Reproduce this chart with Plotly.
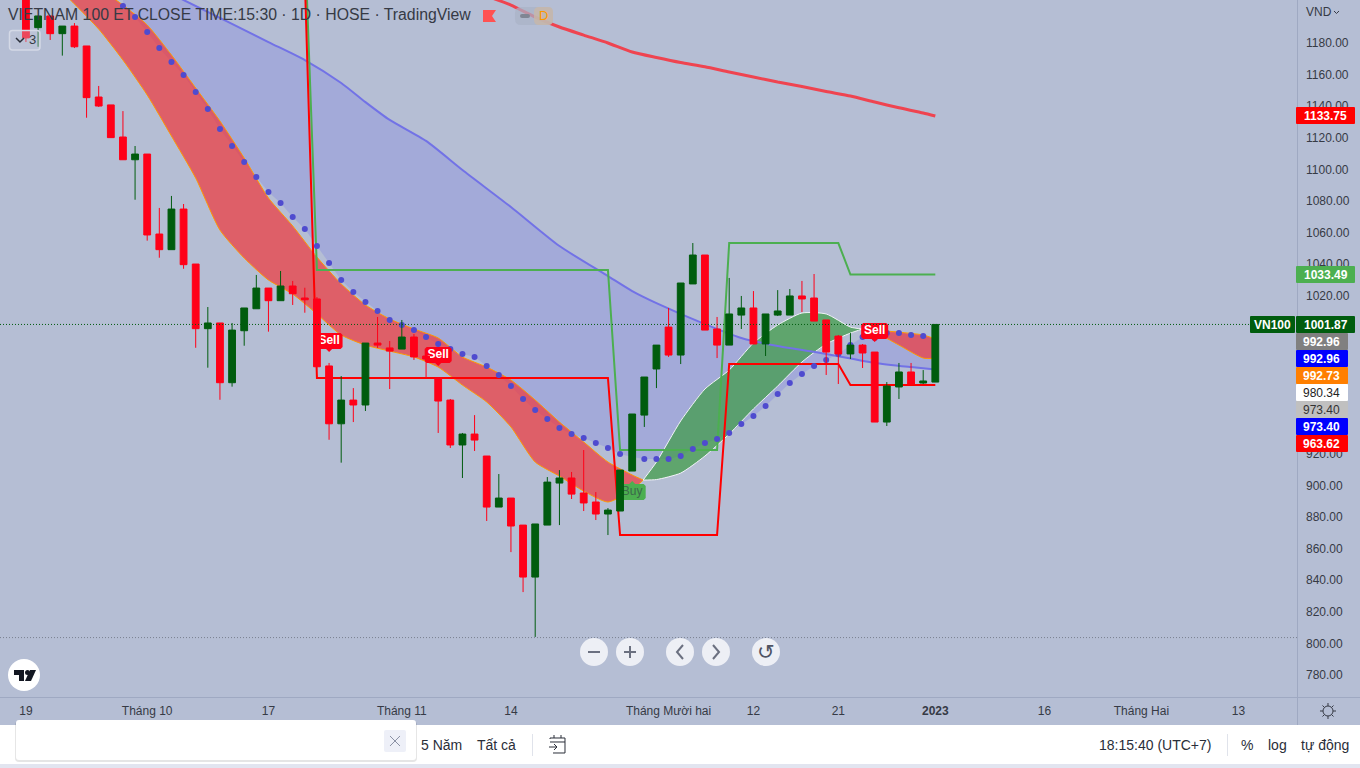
import plotly.graph_objects as go

# ---------- data ----------
opens = [1216,1189.7,1197.1,1185.9,1190.7,1178.1,1145.8,1140.8,1120.5,1106.1,1109.7,1059.1,1049.2,1074.9,1040.1,999.2,1002.8,965,997.9,1011.8,1024.9,1016.9,1026.2,1018.6,1018,975.6,939,954,950.9,990.1,987,986.3,993.9,981.9,968,954,925.6,932.5,918.6,886.3,892,874.9,842,874.9,901.5,904.7,895.2,889.5,881.9,883.8,909.1,944.5,973.7,1000.2,982.5,1027.5,1045.8,999,988.8,1007.8,1012.3,989.5,1007.8,1007.8,1019.9,1018.6,1004.7,994.5,983.2,988.8,984.4,940.1,962.3,971.8,964.8,965.4]
closes = [1183.2,1197.1,1185.9,1190.7,1177.6,1145.4,1140.1,1120.1,1106.1,1109.7,1058.5,1049.2,1074.9,1039.7,999.2,1002.8,965,998.3,1012.3,1024.9,1016.9,1026.2,1021.3,1017.5,975.1,939,954,950.9,990.1,988.8,985,993.9,981.3,980,953.4,925.6,932.5,928.7,886.3,892,874.3,842,875.6,902.1,904.7,894.5,888.9,881.9,884.4,909.7,945.2,968.6,988.8,982.5,1028.1,1045.8,998.3,988.8,1008.5,1012.3,989.5,1008.5,1010.4,1019.9,1018,1004,984.4,983.2,988.8,983.8,940.1,962.9,971.8,964.2,966.1,1001.87]
highs = [1216,1197.1,1197.1,1190.7,1192.6,1178.1,1152.8,1140.8,1136.9,1114.8,1109.7,1075.6,1083.2,1078.1,1040.1,1012.9,1002.8,1002.8,1012.3,1033.2,1024.9,1035.7,1029.4,1025.1,1019.2,977.5,969.2,961.6,990.1,1006.6,991.4,1004.7,995.8,981.9,968.6,954.7,933.2,944.5,918.6,907.2,892,874.9,875.6,905.3,909.7,908.5,922.4,895.8,885.7,909.7,945.2,968.6,988.8,1012.3,1028.1,1053.4,1045.8,1006.6,1031.3,1019.9,1023,1008.5,1023.6,1024.3,1029.4,1033.8,1004.7,995.2,996.4,989.5,984.4,965.4,977.5,977.5,973,1001.87]
lows = [1180.6,1177.6,1181.9,1172,1176.8,1132.7,1139.5,1120.1,1106.1,1080.8,1054.9,1044.1,1049.2,1037.1,987.1,974.5,954.2,962.5,988.4,1011.8,997.3,1016.9,1014.2,1009.3,975.1,928.9,914.4,940.1,947.1,987,961,986.3,979.4,968,933.2,923.7,904.7,921.8,877.5,886.3,857.8,832.5,804.1,874.9,874.9,891.4,883.8,878.1,868.6,883.8,909.1,937,961.6,981.3,976.8,1027.5,998.3,980.6,988.8,999,989.5,981.9,1007.2,1007.8,1009.7,1004,969.9,964.2,980,974.3,940.1,937.6,954.7,964.2,964.2,965.4]
candle_idx = list(range(len(opens)))

ma_long_idx = [38,40,42,44,46,48,50,52,54,56,58,60,62,64,66,68,70,72,74,75]
ma_long = [1209.7,1204,1196.4,1190.1,1185,1180,1174.3,1170.8,1167.6,1165.0,1161.6,1158.5,1155.3,1152.5,1149.3,1146.4,1142.6,1139,1135.7,1133.75]

ma_blue_idx = [8,13,20,23,26,28,30,33,36,40,44,48,50,52,56,59,62,66,70,73,75]
ma_blue = [1226,1207.2,1180.6,1169.2,1154.7,1142.6,1131.3,1118,1099.6,1076.2,1051.5,1032.5,1023,1015.4,1002.1,993.3,988.2,983.2,977.5,974.9,973.4]

dots_idx = list(range(8, 76))
dots = [1203.4,1196.4,1186.9,1176.8,1168,1159.7,1149,1138.2,1125.6,1114.8,1104.7,1095.2,1085.7,1078.7,1069.9,1062.3,1051.5,1040.7,1030,1022.4,1016.1,1010.4,1004.7,1001.5,998.3,993.9,989.5,986.3,983.2,981.3,975.6,969.9,962.9,954.7,947.7,942,936.3,932.5,930,926.8,923.7,919.9,918,916.7,916.7,916.7,918.6,923,926.8,929.4,933.2,938.8,943.9,950.2,957.8,964.8,970.5,975.6,979.4,983.2,988.8,993.9,993.3,996.4,996.4,995.2,994.5,992.96]

band_idx = [3,4,6,8,10,12,14,16,18,20,22,24,26,28,30,32,34,36,38,40,42,44,46,48,50,50.9,52,54,56,58,60,62,64,66,68,69,70,72,74,75]
band_u = [1232,1226.2,1214.8,1204,1191.4,1172.4,1151.5,1130.6,1107.2,1081.9,1064.2,1044.5,1027.5,1014.2,1005.3,999,993.3,981.3,974.9,966.7,954,940.1,927.5,914.8,906.6,903.4,903.7,907.8,918.6,932.5,948.4,962.9,978.1,989.5,996.4,999,998.3,997,995.2,992.73]
band_l = [1212.3,1204.7,1188.8,1169.2,1147.1,1121.1,1094.5,1061.6,1043.9,1030,1021.1,1008.5,995.2,988.8,985,981.3,974.9,963.5,952.8,937,914.8,905.9,896.4,889.5,897.1,903.4,914.8,940.8,961,973,990.1,1001.5,1009.1,1008.5,1000.2,999,997.1,988.8,980.6,980.34]

stop_idx = [23,24,48,49,57,58,67,68,75]
stop_green = [1245,1036.3,1036.3,922.4,922.4,1053.4,1053.4,1033.49,1033.49]
stop_red = [1220,968,968,868.6,868.6,976.8,976.8,963.62,963.62]

sell_idx = [25,34,70]
sell_val = [991.4,982.5,997.7]
buy_idx = [50]
buy_val = [895.8]

last_price = 1001.87
lowest_price = 803.7

y_ticks = [780,800,820,840,860,880,900,920,1020,1040,1060,1080,1100,1120,1140,1160,1180]
x_tick_idx = [0,10,20,31,40,53,60,67,75,84,92,100]
x_tick_text = ["19","Tháng 10","17","Tháng 11","14","Tháng Mười hai","12","21","<b>2023</b>","16","Tháng Hai","13"]

price_tags = [
    ("<b>1133.75</b>",107,59,"#FF0000","#FFFFFF"),
    ("<b>1033.49</b>",266,59,"#4CAF50","#FFFFFF"),
    ("<b>1001.87</b>",316,59,"#005C0E","#FFFFFF"),
    ("<b>992.96</b>",333,52,"#808080","#FFFFFF"),
    ("<b>992.96</b>",350,52,"#0000FF","#FFFFFF"),
    ("<b>992.73</b>",367,52,"#FF7F00","#FFFFFF"),
    ("980.34",384,52,"#FFFFFF","#222222"),
    ("973.40",401,52,"#C0C0C0","#333333"),
    ("<b>973.40</b>",418,52,"#0000FF","#FFFFFF"),
    ("<b>963.62</b>",435,52,"#FF0000","#FFFFFF"),
]

# ---------- frame ----------
W, H, PW, PH = 1360, 768, 1297, 697
BG = "#B5BED4"
FONT = "Liberation Sans"
TXT = "#363A45"
X_RANGE = [-2.14, 104.83]
Y_RANGE = [766.1, 1207.2]
IDX_PER_PX = (X_RANGE[1]-X_RANGE[0])/PW
VAL_PER_PX = (Y_RANGE[1]-Y_RANGE[0])/PH

def px(x): return x/PW
def py(y): return 1-y/PH

def poly(points, close=False):
    s = "M " + " L ".join(f"{px(x):.5f},{py(y):.5f}" for x, y in points)
    return s + (" Z" if close else "")

def rrect(x0, y0, x1, y1, r):
    p = lambda x, y: f"{px(x):.5f},{py(y):.5f}"
    return (f"M {p(x0+r,y0)} L {p(x1-r,y0)} Q {p(x1,y0)} {p(x1,y0+r)} L {p(x1,y1-r)} Q {p(x1,y1)} {p(x1-r,y1)} "
            f"L {p(x0+r,y1)} Q {p(x0,y1)} {p(x0,y1-r)} L {p(x0,y0+r)} Q {p(x0,y0)} {p(x0+r,y0)} Z")

shapes, annos = [], []

def add_path(path, fill=None, line=None, lw=1, opacity=1):
    shapes.append(dict(type="path", xref="paper", yref="paper", path=path, layer="above", opacity=opacity,
                       fillcolor=fill if fill else "rgba(0,0,0,0)",
                       line=dict(color=line if line else "rgba(0,0,0,0)", width=lw if line else 0)))

def add_rect(x0, y0, x1, y1, fill):
    shapes.append(dict(type="rect", xref="paper", yref="paper", x0=px(x0), x1=px(x1), y0=py(y0), y1=py(y1),
                       layer="above", fillcolor=fill, line=dict(width=0)))

def add_circle(cx, cy, r, fill, line=None):
    shapes.append(dict(type="circle", xref="paper", yref="paper", x0=px(cx-r), x1=px(cx+r), y0=py(cy-r), y1=py(cy+r),
                       layer="above", fillcolor=fill, line=dict(color=line or "rgba(0,0,0,0)", width=1 if line else 0)))

def text(t, x, y, size=12, color=TXT, anchor="left", font=FONT):
    annos.append(dict(text=t, x=px(x - (1 if anchor == "left" else 0)), y=py(y), xref="paper", yref="paper", xanchor=anchor, yanchor="middle",
                      showarrow=False, font=dict(size=size, color=color, family=font), borderpad=0))

# ---------- traces ----------
fig = go.Figure()
SMOOTH = dict(shape="spline", smoothing=0.6)

fig.add_trace(go.Scatter(x=dots_idx, y=dots, mode="lines", line=dict(width=0, color="rgba(0,0,0,0)"), hoverinfo="skip"))
fig.add_trace(go.Scatter(x=ma_blue_idx, y=ma_blue, mode="lines", line=dict(width=0, color="rgba(0,0,0,0)", **SMOOTH),
                         fill="tonexty", fillcolor="rgba(121,127,229,0.30)", hoverinfo="skip"))

RED_FILL, GREEN_FILL = "rgba(240,54,59,0.70)", "rgba(58,154,66,0.70)"
for start, stop, fillc, edge in [(0, 26, RED_FILL, "#FF9800"), (25, 36, GREEN_FILL, "#F2F4F8"), (35, 40, RED_FILL, "#FF9800")]:
    fig.add_trace(go.Scatter(x=band_idx[start:stop], y=band_u[start:stop], mode="lines", line=dict(width=1, color=edge, **SMOOTH), hoverinfo="skip"))
    fig.add_trace(go.Scatter(x=band_idx[start:stop], y=band_l[start:stop], mode="lines", line=dict(width=1, color=edge, **SMOOTH),
                             fill="tonexty", fillcolor=fillc, hoverinfo="skip"))

fig.add_trace(go.Scatter(x=ma_blue_idx, y=ma_blue, mode="lines", line=dict(width=2, color="#7272E6", **SMOOTH), hoverinfo="skip"))
fig.add_trace(go.Scatter(x=ma_long_idx, y=ma_long, mode="lines", line=dict(width=3, color="#EF4450", **SMOOTH), hoverinfo="skip"))
fig.add_trace(go.Scatter(x=stop_idx, y=stop_green, mode="lines", line=dict(width=2, color="#4CAF50"), hoverinfo="skip"))
fig.add_trace(go.Scatter(x=stop_idx, y=stop_red, mode="lines", line=dict(width=2, color="#FF0000"), hoverinfo="skip"))
fig.add_trace(go.Scatter(x=dots_idx, y=dots, mode="markers", marker=dict(size=6, color="#4F4BCF"), hoverinfo="skip"))

def tag_box(i, v, up):
    w, h, c, n = 13.5*IDX_PER_PX, 8*VAL_PER_PX, 2*IDX_PER_PX, 3
    cv = 2*VAL_PER_PX
    nx, nv = n*IDX_PER_PX, n*VAL_PER_PX
    top = [(i-w, v+h-cv), (i-w+c, v+h)]
    if up:
        top += [(i-nx, v+h), (i, v+h+nv), (i+nx, v+h)]
    top += [(i+w-c, v+h), (i+w, v+h-cv)]
    bot = [(i+w, v-h+cv), (i+w-c, v-h)]
    if not up:
        bot += [(i+nx, v-h), (i, v-h-nv), (i-nx, v-h)]
    bot += [(i-w+c, v-h), (i-w, v-h+cv)]
    pts = top + bot + [top[0]]
    return [p[0] for p in pts], [p[1] for p in pts]

for i, v in zip(sell_idx, sell_val):
    bx, by = tag_box(i, v, False)
    fig.add_trace(go.Scatter(x=bx, y=by, mode="lines", fill="toself", fillcolor="#FF0018", line=dict(width=0), hoverinfo="skip"))
for i, v in zip(buy_idx, buy_val):
    bx, by = tag_box(i, v, True)
    fig.add_trace(go.Scatter(x=bx, y=by, mode="lines", fill="toself", fillcolor="#4CAF50", line=dict(width=0), hoverinfo="skip"))
fig.add_trace(go.Scatter(x=sell_idx, y=sell_val, mode="text", text=["<b>Sell</b>"]*len(sell_idx), textposition="middle center",
                         textfont=dict(family=FONT, size=12, color="#FFFFFF"), hoverinfo="skip"))
fig.add_trace(go.Scatter(x=buy_idx, y=buy_val, mode="text", text=["Buy"]*len(buy_idx), textposition="middle center",
                         textfont=dict(family=FONT, size=12, color="#3B6A4A"), hoverinfo="skip"))

fig.add_trace(go.Candlestick(x=candle_idx, open=opens, high=highs, low=lows, close=closes,
                             xaxis="x2", yaxis="y2", whiskerwidth=0,
                             increasing=dict(line=dict(color="#005C0E", width=1), fillcolor="#005C0E"),
                             decreasing=dict(line=dict(color="#FF0018", width=1), fillcolor="#FF0018"),
                             hoverinfo="skip"))

# ---------- reference lines ----------
shapes.append(dict(type="line", xref="paper", yref="y", x0=0, x1=1, y0=last_price, y1=last_price, layer="above",
                   line=dict(color="#005C0E", width=1, dash="1px,2px")))
shapes.append(dict(type="line", xref="paper", yref="y", x0=0, x1=1, y0=lowest_price, y1=lowest_price, layer="above",
                   line=dict(color="#7A8090", width=1, dash="1px,2px")))

# ---------- chrome ----------
add_rect(1297, 0, 1298, 725, "#9FA9C2")
add_rect(0, 697, 1360, 698, "#9FA9C2")
add_rect(0, 725, 1360, 764, "#FFFFFF")
add_rect(0, 764, 1360, 768, "#E2E5F0")

# header
text("VIETNAM 100 ET CLOSE TIME:15:30 · 1D · HOSE · TradingView", 8, 15, 15.8, "#363A45")
add_path(poly([(483,10),(496,10),(492,16),(496,22),(483,22)], True), fill="#FF5252")
add_path(rrect(515,7,553,25,6), fill="#AAB2C6", opacity=0.7)
add_path(rrect(534,7,553,25,5), fill="#C8B8A8", opacity=0.8)
add_path(rrect(520,14,530,18,2), fill="#808694")
text("D", 543, 16, 13, "#FF9800", "center")
add_path(rrect(9.5,30.5,40,50,3), fill="rgba(200,206,222,0.35)", line="#D4D9E6", lw=1.5)
add_path(poly([(16,38),(20,42),(24,38)]), line="#2A2E39", lw=1.5)
text("3", 32, 40, 13, "#363A45", "center")

# right axis
text("VND", 1306, 12, 12, TXT)
add_path(poly([(1334,11),(1336.5,13.5),(1339,11)]), line="#363A45", lw=1)
for label, top, width, bg, fg in price_tags:
    add_path(rrect(1296, top, 1296+width, top+17, 1), fill=bg)
    text(label, 1296+width/2, top+8.5, 12, fg, "center")
add_path(rrect(1250, 316, 1295, 333, 1), fill="#005C0E")
text("<b>VN100</b>", 1272.5, 324.5, 12, "#FFFFFF", "center")

# navigation buttons
for cx in [594, 630, 680, 716, 766]:
    add_circle(cx, 652, 14, "#EDEFF5")
add_path(poly([(588,652),(600,652)]), line="#6B7080", lw=2)
add_path(poly([(624,652),(636,652)]), line="#6B7080", lw=2)
add_path(poly([(630,646),(630,658)]), line="#6B7080", lw=2)
add_path(poly([(683,645),(677,652),(683,659)]), line="#6B7080", lw=2)
add_path(poly([(713,645),(719,652),(713,659)]), line="#6B7080", lw=2)
text("↺", 766, 652, 21, "#4F5464", "center", "DejaVu Sans")

# logo
add_circle(24, 675, 16, "#FFFFFF")
add_path(poly([(14,670),(24,670),(24,681),(19,681),(19,675),(14,675)], True), fill="#131722")
add_circle(27.5, 672.5, 2.5, "#131722")
add_path(poly([(30,670),(36,670),(31,681),(25,681)], True), fill="#131722")

# bottom bar
add_path(rrect(15,721,417,762,4), fill="rgba(0,0,0,0.10)")
add_path(rrect(16,720,416,760,3), fill="#FFFFFF")
add_path(rrect(384,730,406,752,2), fill="#EEF0F8")
add_path(poly([(390,736),(400,746)]), line="#8A90A4", lw=1)
add_path(poly([(400,736),(390,746)]), line="#8A90A4", lw=1)
text("5 Năm", 421, 745, 14, "#2A2E39")
text("Tất cả", 477, 745, 14, "#2A2E39")
add_rect(532, 734, 533, 756, "#E0E3EB")
add_path(poly([(550,739),(550,738),(565,738),(565,753),(553,753)]), line="#2A2E39", lw=1)
add_path(poly([(550,742),(565,742)]), line="#2A2E39", lw=1)
add_path(poly([(554,735),(554,738)]), line="#2A2E39", lw=1)
add_path(poly([(561,735),(561,738)]), line="#2A2E39", lw=1)
add_path(poly([(549,747),(557,747)]), line="#2A2E39", lw=1)
add_path(poly([(554,744),(557,747),(554,750)]), line="#2A2E39", lw=1)
text("18:15:40 (UTC+7)", 1099, 745, 14, "#2A2E39")
add_rect(1227, 734, 1228, 756, "#E0E3EB")
text("%", 1241, 745, 14, "#2A2E39")
text("log", 1268, 745, 14, "#2A2E39")
text("tự động", 1301, 745, 14, "#2A2E39")

# settings gear
add_circle(1328, 711, 5, "rgba(0,0,0,0)", "#363A45")
for a, b in [((1328,703),(1328,706)),((1328,716),(1328,719)),((1320,711),(1323,711)),((1333,711),(1336,711)),
             ((1322.5,705.5),(1324.5,707.5)),((1331.5,714.5),(1333.5,716.5)),((1333.5,705.5),(1331.5,707.5)),((1324.5,714.5),(1322.5,716.5))]:
    add_path(poly([a, b]), line="#363A45", lw=1)

# ---------- layout ----------
fig.update_layout(
    width=W, height=H, showlegend=False, autosize=False, boxgap=0.2,
    paper_bgcolor=BG, plot_bgcolor=BG,
    margin=dict(l=0, r=W-PW, t=0, b=H-PH, pad=0),
    font=dict(family=FONT, size=12, color=TXT),
    xaxis=dict(range=X_RANGE, tickmode="array", tickvals=x_tick_idx, ticktext=x_tick_text, showgrid=False, zeroline=False,
               showline=False, ticks="", ticklabelstandoff=5, rangeslider=dict(visible=False), fixedrange=True,
               tickangle=0, tickfont=dict(family=FONT, size=12, color=TXT)),
    yaxis=dict(range=Y_RANGE, side="right", tickmode="array", tickvals=y_ticks, tickformat=".2f", showgrid=False,
               zeroline=False, showline=False, ticks="", ticklabelstandoff=8, fixedrange=True,
               tickfont=dict(family=FONT, size=12, color=TXT)),
    xaxis2=dict(range=X_RANGE, overlaying="x", visible=False, rangeslider=dict(visible=False), fixedrange=True),
    yaxis2=dict(range=Y_RANGE, overlaying="y", visible=False, fixedrange=True),
    shapes=shapes, annotations=annos,
)

fig.write_html("out.html", config=dict(displayModeBar=False),
               post_script="document.body.style.margin='0';document.body.style.overflow='hidden';")
